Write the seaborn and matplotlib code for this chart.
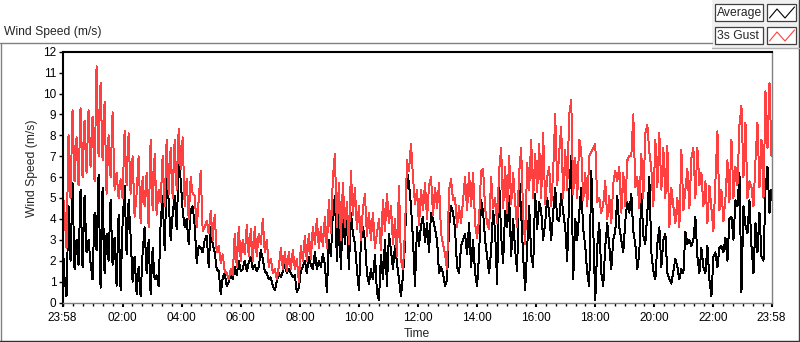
import numpy as np
import pandas as pd
import matplotlib
matplotlib.use("Agg")
import matplotlib.pyplot as plt
import seaborn as sns
from matplotlib.lines import Line2D
from matplotlib.patches import Rectangle

# ---------------- data ----------------
gust = [
    5.5,4.3,2.6,8.0,5.0,9.2,5.8,7.9,5.6,9.3,
    6.0,8.7,6.2,9.2,6.5,8.9,5.8,11.3,7.0,10.5,
    6.8,9.6,5.2,8.0,6.0,9.1,5.4,6.2,5.0,5.9,
    5.0,8.2,5.6,8.1,5.2,7.0,4.1,5.2,7.0,3.8,
    6.0,4.6,6.2,3.6,7.8,4.4,7.1,4.2,5.4,4.8,
    7.0,4.6,7.8,5.2,7.4,5.0,7.8,5.4,8.3,6.4,
    7.9,4.6,5.9,4.0,6.0,5.2,5.1,3.6,4.9,6.3,
    3.4,3.6,3.9,3.3,
    4.4,3.0,4.2,2.4,2.7,1.9,2.3,1.5,1.4,1.1,
    1.6,1.3,3.3,1.7,3.6,2.0,3.0,2.3,3.7,2.2,
    3.5,2.0,3.6,2.2,3.3,2.8,4.0,2.4,3.0,1.7,
    2.1,1.4,1.6,1.1,1.7,2.6,1.6,2.4,1.5,2.4,
    1.6,2.5,1.6,2.1,1.0,2.7,2.0,3.2,2.0,3.3,
    2.1,3.6,2.8,4.0,2.6,3.6,2.7,4.1,2.6,4.9,
    3.3,6.0,7.1,3.6,5.7,3.0,5.7,3.6,4.8,2.8,
    6.3,4.2,5.5,3.5,4.6,3.0,4.5,5.2,3.2,4.3,
    3.0,4.3,2.6,3.3,4.0,2.5,4.9,3.4,5.2,3.8,
    4.6,2.8,4.0,2.2,5.6,2.0,1.6,3.4,6.8,6.3,
    7.6,6.0,4.7,5.4,3.7,5.4,4.4,5.7,4.0,5.6,
    6.0,4.2,5.5,4.5,5.7,3.3,2.8,2.3,1.6,5.4,
    5.9,4.9,5.0,3.6,4.6,3.8,4.9,6.0,4.4,6.2,
    4.6,6.2,3.8,3.1,4.0,6.3,6.4,4.5,3.8,3.5,
    6.0,4.5,5.0,3.8,6.3,7.4,4.5,6.5,4.3,7.0,
    4.7,6.2,4.8,3.6,6.2,7.4,4.2,2.8,6.7,5.4,
    7.8,5.0,7.1,5.3,7.6,5.0,8.1,4.7,6.0,6.5,
    4.6,6.3,9.0,5.6,7.2,8.4,5.0,7.3,5.4,9.0,
    9.7,5.2,6.9,5.0,7.8,7.3,4.9,6.2,4.6,7.0,
    7.2,7.4,7.6,4.8,5.0,4.3,4.7,5.8,4.0,5.1,
    3.8,5.7,6.3,5.8,6.5,4.3,6.2,4.6,6.8,7.0,
    7.0,9.0,5.5,6.0,4.5,7.1,5.0,8.1,8.5,7.2,
    6.4,4.6,7.8,5.5,8.1,5.4,7.4,5.0,7.5,3.6,
    5.5,4.6,3.8,5.0,3.6,7.3,4.4,5.4,6.4,4.5,
    6.9,7.4,5.0,7.4,5.6,6.2,4.6,5.8,3.8,5.6,
    4.5,3.4,5.8,8.2,4.4,5.4,3.9,5.0,6.8,4.8,
    7.8,5.0,6.5,5.6,8.5,9.4,6.0,8.6,5.0,5.8,
    5.5,4.6,6.8,8.6,5.5,7.8,5.0,10.1,7.4,10.5,
    7.0,
]

average = [
    3.0,1.2,0.3,4.6,2.0,5.7,1.6,3.0,1.8,5.4,
    1.7,5.1,2.4,3.0,1.9,1.1,4.3,2.5,6.1,0.7,
    5.5,1.4,3.3,2.0,4.9,1.8,3.1,0.8,4.2,0.6,
    3.8,5.6,2.3,4.9,3.2,1.0,2.2,0.4,1.7,0.3,
    2.4,3.6,1.4,3.0,0.4,2.6,1.1,1.3,0.8,3.8,
    5.1,2.5,6.0,4.9,3.0,4.2,5.1,3.5,6.6,5.9,
    4.4,3.6,4.0,2.8,4.4,4.6,3.7,1.9,2.7,2.6,
    2.4,3.0,3.2,1.7,
    3.6,2.8,2.4,1.6,1.5,0.4,1.2,1.4,0.8,1.0,
    1.4,1.1,1.7,1.3,2.0,1.5,1.6,2.0,1.5,1.9,
    2.2,1.6,1.8,1.5,1.7,2.5,2.1,1.5,1.4,1.1,
    1.2,0.8,0.6,1.0,1.4,1.2,1.5,1.9,1.4,1.6,
    1.4,1.2,1.3,0.5,0.7,1.5,1.7,2.0,1.4,2.2,
    1.8,1.6,2.4,1.6,2.0,1.7,2.3,1.8,0.5,3.0,
    2.2,4.3,5.1,2.0,4.3,1.6,4.4,2.8,4.1,1.6,
    4.3,3.3,2.8,1.6,0.6,2.9,3.6,3.0,1.4,0.9,
    1.6,1.1,2.3,0.5,0.1,2.3,1.1,3.0,0.8,3.3,
    2.5,1.6,2.7,1.9,1.1,0.3,1.3,2.7,6.3,5.7,
    4.6,3.0,0.8,3.6,2.7,3.7,4.1,2.9,3.8,2.4,
    4.3,4.0,3.5,3.0,1.4,1.7,1.4,0.8,1.1,3.6,
    4.6,4.3,3.5,1.7,1.4,2.7,3.0,3.3,2.3,3.8,
    1.7,3.0,1.4,0.8,2.3,4.9,4.3,3.0,2.2,1.4,
    2.5,4.4,3.4,0.9,5.9,3.2,1.9,4.4,3.6,5.1,
    2.2,4.0,2.5,1.5,6.0,4.3,2.2,0.6,2.6,4.6,
    2.3,1.7,5.2,3.5,4.8,4.4,3.0,3.8,5.0,4.3,
    3.0,4.3,5.5,4.0,3.9,5.2,4.3,3.6,2.0,5.2,
    7.0,1.1,4.0,3.0,4.3,5.5,3.5,2.7,1.4,0.8,
    6.3,3.5,0.1,2.7,3.8,1.4,0.8,2.7,3.8,2.7,
    1.6,3.0,3.4,5.1,3.6,3.0,2.4,3.9,4.8,4.3,
    5.2,3.4,2.8,1.6,2.4,5.2,3.2,2.8,4.3,6.0,
    2.4,1.5,1.1,2.8,3.6,1.7,3.0,3.3,1.4,1.1,
    0.9,1.5,2.1,1.7,1.1,1.6,1.4,3.4,2.8,3.0,
    2.7,3.0,4.1,2.2,1.4,2.6,1.7,1.4,2.7,1.1,
    0.3,2.2,2.4,1.7,2.6,2.7,2.4,3.1,2.0,4.0,
    4.1,3.0,4.9,4.6,6.2,0.5,4.6,3.7,3.3,4.9,
    2.7,1.4,3.8,2.4,4.3,2.2,2.0,5.4,6.5,4.3,
    5.4,
]

series_names = ["Average", "3s Gust"]
series_colors = ["#000000", "#ff4040"]
# time axis: minutes after 23:58 (start) to 23:58 next day
span_minutes = 1440
tick_minutes = [0, 122, 242, 362, 482, 602, 722, 842, 962, 1082, 1202, 1322, 1440]
tick_labels = ["23:58", "02:00", "04:00", "06:00", "08:00", "10:00", "12:00",
               "14:00", "16:00", "18:00", "20:00", "22:00", "23:58"]
minor_minutes = list(range(2, 1440, 20))
y_ticks = list(range(0, 13))

# ---------------- build frame ----------------
minutes = np.linspace(0, span_minutes, len(average))
df = pd.concat([
    pd.DataFrame({"minute": minutes, "speed": average, "series": "Average"}),
    pd.DataFrame({"minute": minutes, "speed": gust, "series": "3s Gust"}),
], ignore_index=True)

sns.set_style("white")
plt.rcParams["font.family"] = ["Liberation Sans", "DejaVu Sans"]

W, H = 800, 342
def fx(px): return px / W
def fy(py): return 1 - py / H

fig = plt.figure(figsize=(8, 3.42), dpi=100)
fig.patch.set_facecolor("white")

ax = fig.add_axes([fx(62.5), fy(302.5), fx(771.5) - fx(62.5), fy(51.7) - fy(302.5)])
sns.lineplot(data=df, x="minute", y="speed", hue="series", hue_order=series_names,
             palette=series_colors, estimator=None, linewidth=0.7, antialiased=False,
             legend=False, ax=ax)
ax.set_xlim(0, span_minutes)
ax.set_ylim(0, 12)
ax.set_xticks(tick_minutes)
ax.set_xticklabels(tick_labels)
ax.set_xticks(minor_minutes, minor=True)
ax.set_yticks(y_ticks)
ax.set_xlabel("")
ax.set_ylabel("")
ax.tick_params(axis="y", which="major", direction="out", length=3, width=1,
               colors="black", labelsize=8.5, pad=1.5, left=True)
ax.tick_params(axis="x", which="major", direction="out", length=3, width=1.5,
               colors="black", labelsize=8.5, pad=3.5, bottom=True)
ax.tick_params(axis="x", which="minor", direction="out", length=1.8, width=1,
               colors="black", bottom=True)
for s in ["top", "left"]:
    ax.spines[s].set_color("black")
    ax.spines[s].set_linewidth(1.5)
for s in ["bottom", "right"]:
    ax.spines[s].set_color("#808080")
    ax.spines[s].set_linewidth(1.0)

# texts
fig.text(fx(4), fy(32), "Wind Speed (m/s)", ha="left", va="center", fontsize=8.7)
fig.text(fx(31.5), fy(168), "Wind Speed (m/s)", ha="center", va="center",
         rotation=90, fontsize=8.7)
fig.text(fx(417), fy(334), "Time", ha="center", va="center", fontsize=8.7)

# outer frame
def hline(x0, x1, y, color, lw=1.0):
    fig.add_artist(Line2D([fx(x0), fx(x1)], [fy(y), fy(y)], transform=fig.transFigure,
                          color=color, lw=lw))
def vline(x, y0, y1, color, lw=1.0):
    fig.add_artist(Line2D([fx(x), fx(x)], [fy(y0), fy(y1)], transform=fig.transFigure,
                          color=color, lw=lw))

fig.add_artist(Rectangle((fx(711.5), fy(48.5)), fx(800) - fx(711.5), fy(0) - fy(48.5),
                         transform=fig.transFigure, facecolor="#f0f0f0", edgecolor="none"))
hline(0, 711.5, 42.5, "#808080")
vline(0.5, 42.5, 342, "#808080")
hline(0, 800, 340.5, "#303030")
vline(798.5, 0, 341, "#404040")
hline(711.5, 799, 48.3, "#b0b0b0")

# legend
for i, (name, col) in enumerate(zip(series_names, series_colors)):
    top = 4 + 23 * i
    fig.add_artist(Rectangle((fx(715), fy(top + 17)), fx(762.5) - fx(715), fy(top) - fy(top + 17),
                             transform=fig.transFigure, facecolor="white",
                             edgecolor="#404040", lw=0.9))
    fig.add_artist(Rectangle((fx(767.3), fy(top + 17)), fx(796) - fx(767.3), fy(top) - fy(top + 17),
                             transform=fig.transFigure, facecolor="white",
                             edgecolor="#404040", lw=0.9))
    fig.text(fx(717), fy(top + 8.7), name, ha="left", va="center", fontsize=8.7)
    fig.add_artist(Line2D([fx(769.5), fx(777), fx(785), fx(794.5)],
                          [fy(top + 14), fy(top + 5), fy(top + 14), fy(top + 3)],
                          transform=fig.transFigure, color=col, lw=0.8))

fig.savefig("out.png", dpi=100, facecolor="white")
